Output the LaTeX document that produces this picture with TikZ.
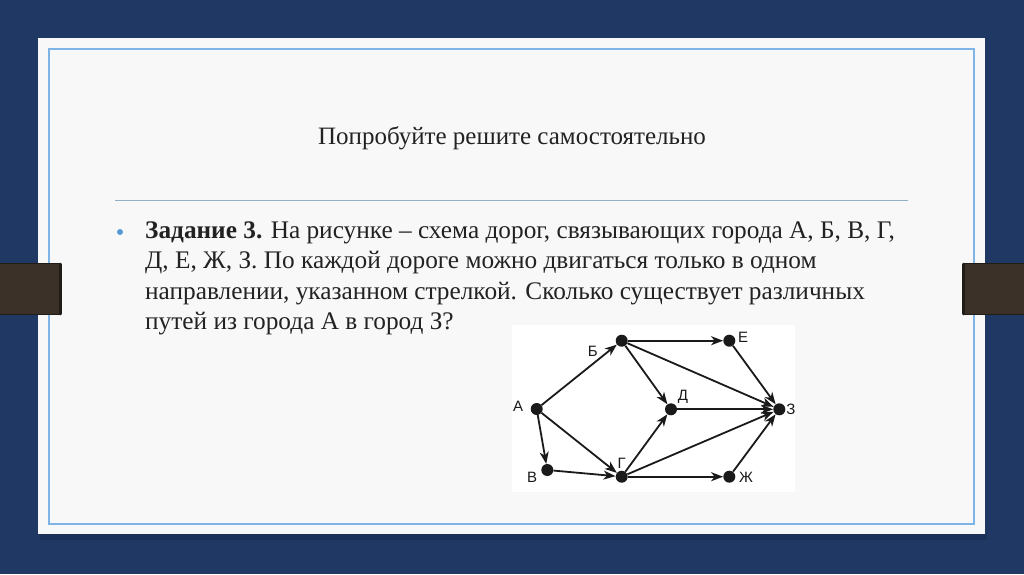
\documentclass[tikz,border=0pt]{standalone}
\usepackage{fontspec}
\setmainfont{Liberation Serif}
\newfontfamily\labfont{Liberation Sans}
\usetikzlibrary{arrows.meta}
\definecolor{navy}{HTML}{203864}
\definecolor{pagec}{HTML}{F8F8F8}
\definecolor{frameblue}{HTML}{7FB5E6}
\definecolor{rulec}{HTML}{8FB0C9}
\definecolor{strapc}{HTML}{3B3128}
\definecolor{strapedge}{HTML}{221C17}
\definecolor{txt}{HTML}{222222}
\definecolor{bulletc}{HTML}{5B9BD5}
\definecolor{edgec}{HTML}{1A1A1A}
\tikzset{
  city/.style={circle,fill=edgec,inner sep=0pt,minimum size=12pt},
  lab/.style={font=\labfont\fontsize{15}{15}\selectfont,text=edgec,inner sep=0pt},
  road/.style={draw=edgec,line width=1.8pt,-{Stealth[length=12pt,width=9pt,inset=3.5pt]}},
  bodyline/.style={anchor=base west,inner sep=0pt,text=txt,font=\fontsize{25.3}{25.3}\selectfont},
}
\begin{document}
\begin{tikzpicture}[x=1pt,y=-1pt]
\useasboundingbox (0,0) rectangle (1024,574);
% background
\fill[navy] (0,0) rectangle (1024,574);
% shadow
\fill[navy!80!black,opacity=0.6] (40,534) rectangle (987,540);
% page
\fill[pagec] (38,38) rectangle (985,534);
\draw[frameblue,line width=1.3pt] (49,49) rectangle (974,524);
% straps
\fill[strapc] (0,263) rectangle (61,315);
\draw[strapedge,line width=1.2pt] (0,263.5) -- (61,263.5) (0,314.5) -- (61,314.5);
\draw[strapedge,line width=2.5pt,line cap=round] (60.5,264) -- (60.5,314);
\fill[strapc] (963,263) rectangle (1024,315);
\draw[strapedge,line width=1.2pt] (963,263.5) -- (1024,263.5) (963,314.5) -- (1024,314.5);
\draw[strapedge,line width=2.5pt,line cap=round] (963.5,264) -- (963.5,314);
% title
\node[anchor=base,inner sep=0pt,text=txt,font=\fontsize{25}{25}\selectfont] (title) at (512,144) {Попробуйте решите самостоятельно};
\draw[rulec,line width=1.3pt] (115,200.5) -- (908,200.5);
% bullet
\fill[bulletc] (120,232) circle (3pt);
\node[bodyline] (l1) at (145,238) {\textbf{Задание 3.} На рисунке – схема дорог, связывающих города А, Б, В, Г,};
\node[bodyline] (l2) at (145,268.5) {Д, Е, Ж, З. По каждой дороге можно двигаться только в одном};
\node[bodyline] (l3) at (145,299) {направлении, указанном стрелкой. Сколько существует различных};
\node[bodyline] (l4) at (145,329.5) {путей из города А в город З?};
% graph picture
\fill[white] (512,325) rectangle (795,492);
\node[city] (A) at (536.7,409) {};
\node[city] (B) at (621.7,340.7) {};
\node[city] (E) at (729.3,340.7) {};
\node[city] (D) at (671,409.3) {};
\node[city] (Z) at (779.3,409.3) {};
\node[city] (V) at (547.3,470) {};
\node[city] (G) at (621.7,476.7) {};
\node[city] (Zh) at (729.3,476.7) {};
\node[lab] (lA) at (518,406.5) {А};
\node[lab] (lB) at (592.7,351) {Б};
\node[lab] (lE) at (743,337) {Е};
\node[lab] (lD) at (683,397) {Д};
\node[lab] (lZ) at (791,409) {З};
\node[lab] (lV) at (532,477) {В};
\node[lab] (lG) at (621.7,463) {Г};
\node[lab] (lZh) at (746,477) {Ж};
\draw[road] (A) -- (B);
\draw[road] (A) -- (V);
\draw[road] (A) -- (G);
\draw[road] (V) -- (G);
\draw[road] (B) -- (E);
\draw[road] (B) -- (D);
\draw[road] (B) -- (Z);
\draw[road] (E) -- (Z);
\draw[road] (D) -- (Z);
\draw[road] (G) -- (D);
\draw[road] (G) -- (Z);
\draw[road] (G) -- (Zh);
\draw[road] (Zh) -- (Z);
\end{tikzpicture}
\end{document}
